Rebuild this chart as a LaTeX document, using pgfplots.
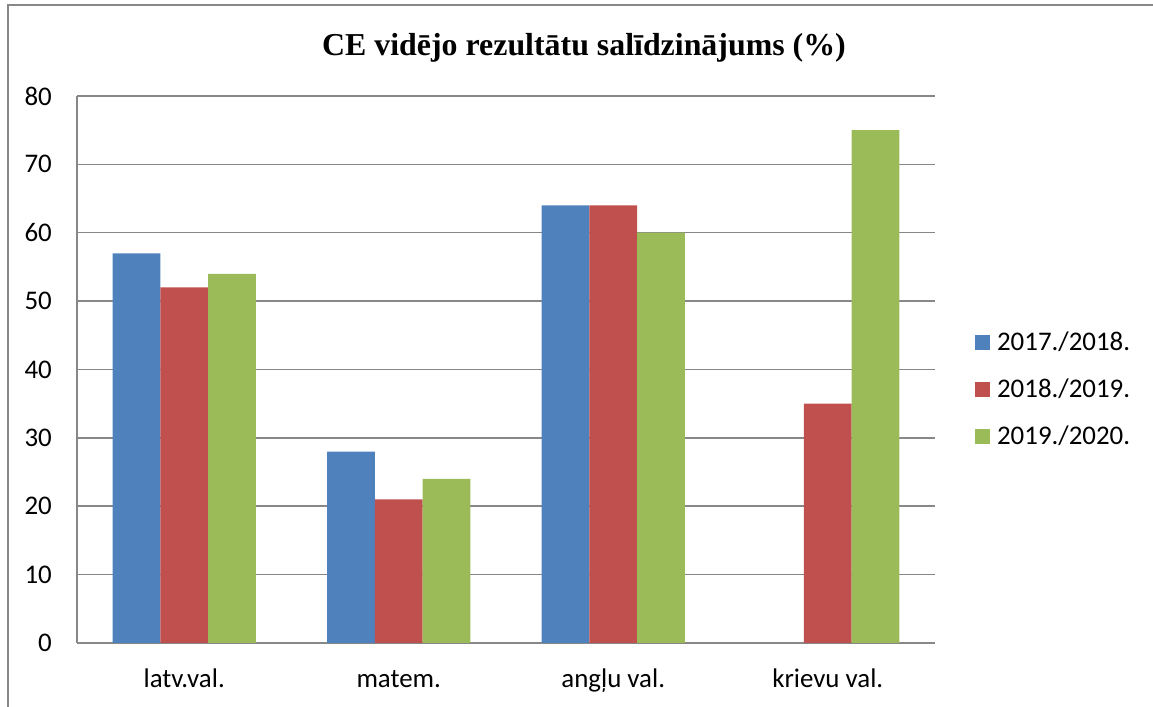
\documentclass[border=0pt]{standalone}
\usepackage{fontspec}
\setmainfont{Carlito}
\newfontfamily\titlefont{Liberation Serif}
\usepackage{pgfplots}
\pgfplotsset{compat=1.18}
\definecolor{cblue}{HTML}{4F81BD}
\definecolor{cred}{HTML}{C0504D}
\definecolor{cgreen}{HTML}{9BBB59}
\definecolor{cgrid}{HTML}{878787}
\begin{document}
\begin{tikzpicture}[x=1bp,y=1bp]
\useasboundingbox (0,0) rectangle (1153,707);
\draw[cgrid, line width=2bp] (8,-5) -- (8,702) -- (1160,702);
\node[font=\titlefont\bfseries\fontsize{32}{38}\selectfont, anchor=base] at (584,651) {CE vidējo rezultātu salīdzinājums (\%)};
\begin{axis}[
  at={(77bp,64bp)}, anchor=south west,
  scale only axis, width=858bp, height=547bp,
  ybar=0pt, bar width=0.2225,
  xmin=-0.5, xmax=3.5, ymin=0, ymax=80,
  xtick={0,1,2,3},
  xticklabels={latv.val., matem., angļu val., krievu val.},
  ytick={0,10,...,80},
  major tick length=0pt,
  ymajorgrids, grid style={cgrid, line width=1.5bp},
  axis x line*=bottom, axis y line*=left,
  axis line style={cgrid, line width=1.5bp},
  x axis line style={-}, y axis line style={-},
  tick label style={font=\fontsize{27}{31}\selectfont},
  /pgf/number format/assume math mode=true,
  yticklabel style={anchor=east, inner sep=0pt, xshift=-25bp},
  xticklabel style={anchor=base, inner sep=0pt, yshift=-45bp},
  legend style={draw=none, fill=none, at={(1.043,0.464)}, anchor=west,
    font=\fontsize{27}{31}\selectfont, row sep=27bp,
    nodes={inner sep=0pt, anchor=west, xshift=0bp}},
  legend cell align=left,
  legend image code/.code={\fill[#1] (0bp,-7.5bp) rectangle (15bp,7.5bp); \path (22bp,0);},
]
\addplot[fill=cblue, draw=none] coordinates {(0,57) (1,28) (2,64)};
\addplot[fill=cred, draw=none] coordinates {(0,52) (1,21) (2,64) (3,35)};
\addplot[fill=cgreen, draw=none] coordinates {(0,54) (1,24) (2,60) (3,75)};
\legend{2017./2018., 2018./2019., 2019./2020.}
\end{axis}
\end{tikzpicture}
\end{document}
